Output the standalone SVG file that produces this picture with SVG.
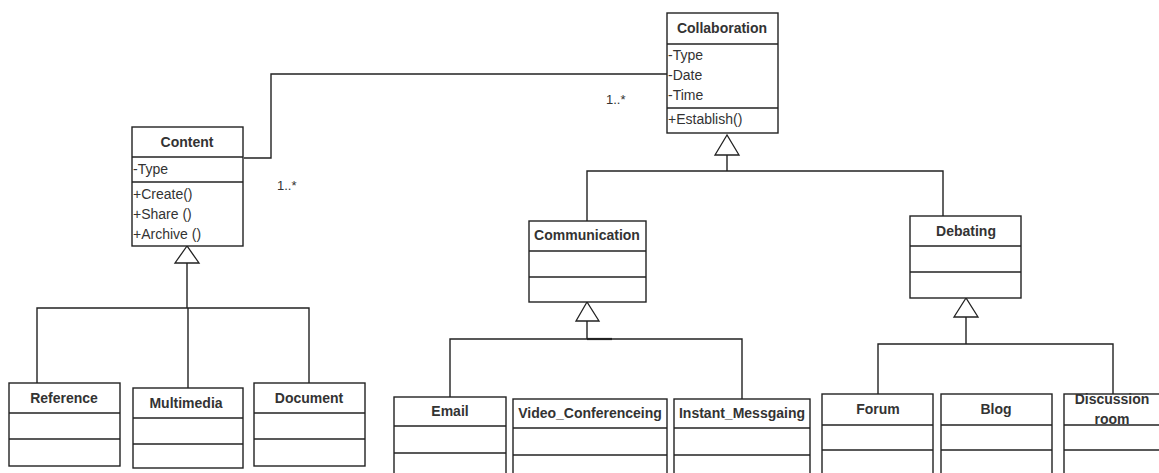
<svg xmlns="http://www.w3.org/2000/svg" width="1159" height="473" viewBox="0 0 1159 473">
<style>
.box{fill:#fff;stroke:#222;stroke-width:1.4}
.ln{fill:none;stroke:#222;stroke-width:1.4}
.tri{fill:#fff;stroke:#222;stroke-width:1.3}
.t{font-family:"Liberation Sans",Arial,sans-serif;font-size:14px;font-weight:bold;fill:#333;text-anchor:middle}
.a{font-family:"Liberation Sans",Arial,sans-serif;font-size:14px;fill:#333}
.m{font-family:"Liberation Sans",Arial,sans-serif;font-size:13px;fill:#333}
</style>
<rect width="1159" height="473" fill="#fff"/>
<g id="connectors">
<polyline class="ln" points="244,158 271,158 271,74 667,74"/>
<text class="m" x="606" y="104">1..*</text>
<text class="m" x="277" y="190">1..*</text>
<polyline class="ln" points="727,155 727,171"/>
<polyline class="ln" points="587,221 587,171 943,171 943,216"/>
<polygon class="tri" points="727,135 715,155 739,155"/>
<polyline class="ln" points="187,263 187,308"/>
<polyline class="ln" points="37,383 37,308 309,308 309,383"/>
<polyline class="ln" points="188,308 188,388"/>
<polygon class="tri" points="187,246 175,263 199,263"/>
<polyline class="ln" points="587,321 587,339"/>
<polyline class="ln" points="450,397 450,339 742,339 742,399"/>
<line x1="587" y1="339" x2="612" y2="339" stroke="#222" stroke-width="2.2"/>
<polygon class="tri" points="587,302 576,321 599,321"/>
<polyline class="ln" points="966,317 966,344"/>
<polyline class="ln" points="878,394 878,344 1113,344 1113,394"/>
<polygon class="tri" points="966,298 954,317 978,317"/>
</g>
<g id="Collaboration">
<rect class="box" x="667" y="13" width="111" height="120"/>
<line class="ln" x1="667" y1="44" x2="778" y2="44"/>
<line class="ln" x1="667" y1="108" x2="778" y2="108"/>
<text class="t" x="722" y="33">Collaboration</text>
<text class="a" x="668" y="60">-Type</text>
<text class="a" x="668" y="80">-Date</text>
<text class="a" x="668" y="100">-Time</text>
<text class="a" x="668" y="124">+Establish()</text>
</g>
<g id="Content">
<rect class="box" x="132" y="127" width="111" height="119"/>
<line class="ln" x1="132" y1="157" x2="243" y2="157"/>
<line class="ln" x1="132" y1="182" x2="243" y2="182"/>
<text class="t" x="187" y="147">Content</text>
<text class="a" x="133" y="174">-Type</text>
<text class="a" x="133" y="199">+Create()</text>
<text class="a" x="133" y="219">+Share ()</text>
<text class="a" x="133" y="239">+Archive ()</text>
</g>
<g id="Reference">
<rect class="box" x="9" y="383" width="111" height="83"/>
<line class="ln" x1="9" y1="413" x2="120" y2="413"/>
<line class="ln" x1="9" y1="439" x2="120" y2="439"/>
<text class="t" x="64" y="403">Reference</text>
</g>
<g id="Multimedia">
<rect class="box" x="133" y="388" width="110" height="80"/>
<line class="ln" x1="133" y1="418" x2="243" y2="418"/>
<line class="ln" x1="133" y1="444" x2="243" y2="444"/>
<text class="t" x="186" y="408">Multimedia</text>
</g>
<g id="Document">
<rect class="box" x="254" y="383" width="111" height="83"/>
<line class="ln" x1="254" y1="413" x2="365" y2="413"/>
<line class="ln" x1="254" y1="439" x2="365" y2="439"/>
<text class="t" x="309" y="403">Document</text>
</g>
<g id="Communication">
<rect class="box" x="529" y="221" width="117" height="81"/>
<line class="ln" x1="529" y1="251" x2="646" y2="251"/>
<line class="ln" x1="529" y1="277" x2="646" y2="277"/>
<text class="t" x="587" y="240">Communication</text>
</g>
<g id="Debating">
<rect class="box" x="910" y="216" width="111" height="82"/>
<line class="ln" x1="910" y1="246" x2="1021" y2="246"/>
<line class="ln" x1="910" y1="272" x2="1021" y2="272"/>
<text class="t" x="966" y="236">Debating</text>
</g>
<g id="Email">
<rect class="box" x="394" y="397" width="112" height="90"/>
<line class="ln" x1="394" y1="426" x2="506" y2="426"/>
<line class="ln" x1="394" y1="453" x2="506" y2="453"/>
<text class="t" x="450" y="416">Email</text>
</g>
<g id="Video_Conferenceing">
<rect class="box" x="513" y="399" width="154" height="90"/>
<line class="ln" x1="513" y1="428" x2="667" y2="428"/>
<line class="ln" x1="513" y1="455" x2="667" y2="455"/>
<text class="t" x="590" y="418">Video_Conferenceing</text>
</g>
<g id="Instant_Messgaing">
<rect class="box" x="674" y="399" width="136" height="90"/>
<line class="ln" x1="674" y1="428" x2="810" y2="428"/>
<line class="ln" x1="674" y1="455" x2="810" y2="455"/>
<text class="t" x="742" y="418">Instant_Messgaing</text>
</g>
<g id="Forum">
<rect class="box" x="822" y="394" width="111" height="95"/>
<line class="ln" x1="822" y1="425" x2="933" y2="425"/>
<line class="ln" x1="822" y1="450" x2="933" y2="450"/>
<text class="t" x="878" y="414">Forum</text>
</g>
<g id="Blog">
<rect class="box" x="941" y="394" width="111" height="95"/>
<line class="ln" x1="941" y1="425" x2="1052" y2="425"/>
<line class="ln" x1="941" y1="450" x2="1052" y2="450"/>
<text class="t" x="996" y="414">Blog</text>
</g>
<g id="Discussion_room">
<rect class="box" x="1064" y="394" width="110" height="95"/>
<line class="ln" x1="1064" y1="425" x2="1174" y2="425"/>
<line class="ln" x1="1064" y1="450" x2="1174" y2="450"/>
<text class="t" x="1112" y="404">Discussion</text>
<text class="t" x="1112" y="424">room</text>
</g>
</svg>
